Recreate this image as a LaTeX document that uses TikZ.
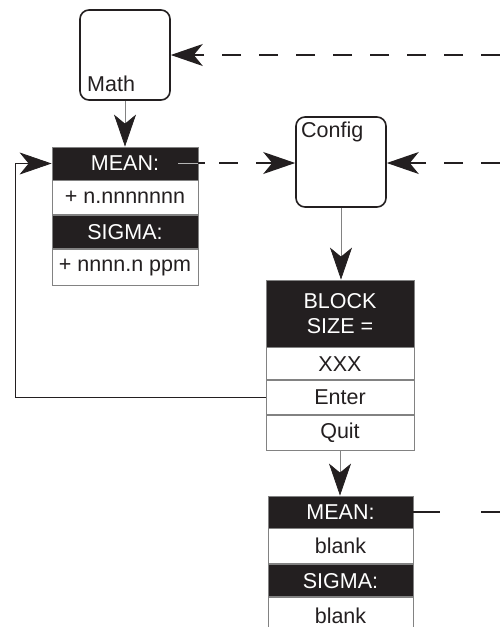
\documentclass[tikz,border=0pt]{standalone}
\usepackage{fontspec}
\setmainfont{Liberation Sans}
\usepackage{tikz}
\usetikzlibrary{arrows.meta, positioning, calc}
\definecolor{mydark}{RGB}{35,31,32}
\definecolor{rowgray}{RGB}{130,130,130}
\newcommand{\bigsans}{\fontsize{21.5}{24.3}\selectfont}
\tikzset{
  panel/.style={rectangle, draw=mydark, line width=1.6pt, rounded corners=9pt,
    minimum width=90pt, minimum height=90pt, inner sep=0pt},
  hdr/.style={rectangle, draw=rowgray, fill=mydark, text=white, font=\bigsans,
    minimum width=146pt, minimum height=33.5pt, inner sep=0pt, align=center, line width=0.8pt},
  cell/.style={hdr, fill=white, text=mydark},
  lbl/.style={anchor=base west, font=\bigsans, text=mydark, inner sep=0pt},
  arrow/.style={-{Stealth[length=32pt, width=22pt, inset=9pt, color=mydark]}},
  thin/.style={draw=rowgray, line width=0.7pt},
  dashline/.style={draw=mydark, line width=1.3pt, dash pattern=on 19pt off 18pt}
}

\begin{document}
\begin{tikzpicture}[x=1pt, y=-1pt]
    \useasboundingbox (0,0) rectangle (500,627);

    % mode panels
    \node[panel] (math) at (125,55) {};
    \node[lbl] (mathlbl) at (87,91) {Math};
    \node[panel] (config) at (341,162) {};
    \node[lbl] (cfglbl) at (301,137) {Config};

    % math readout
    \node[hdr, minimum height=33pt] (mean1h) at (125,163.5) {MEAN:};
    \node[cell, below=0pt of mean1h] (mean1v) {+ n.nnnnnnn};
    \node[hdr, below=0pt of mean1v] (sig1h) {SIGMA:};
    \node[cell, below=0pt of sig1h, minimum height=36pt] (sig1v) {+ nnnn.n ppm};

    % block size menu
    \node[hdr, minimum width=148pt, minimum height=67pt] (blk) at (340,313.5) {BLOCK\\SIZE =};
    \node[cell, minimum width=148pt, minimum height=32pt, below=0pt of blk] (xxx) {XXX};
    \node[cell, minimum width=148pt, minimum height=34pt, below=0pt of xxx] (enter) {Enter};
    \node[cell, minimum width=148pt, minimum height=35pt, below=0pt of enter] (quit) {Quit};

    % cleared readout
    \node[hdr, minimum width=145pt, minimum height=32pt] (mean2h) at (340.5,512) {MEAN:};
    \node[cell, minimum width=145pt, minimum height=35pt, below=0pt of mean2h] (mean2v) {blank};
    \node[hdr, minimum width=145pt, minimum height=32pt, below=0pt of mean2v] (sig2h) {SIGMA:};
    \node[cell, minimum width=145pt, minimum height=36pt, below=0pt of sig2h] (sig2v) {blank};

    \coordinate (inmath) at (500,55);
    \coordinate (incfg) at (500,163);
    \coordinate (outmean) at (500,512);
    \coordinate (meanout) at (178,163);
    \coordinate (loopx) at (15,0);

    % connectors
    \draw[dashline, arrow] (inmath) -- (math.east);
    \draw[thin, arrow] (math.south) -- (mean1h.north);
    \draw[dashline, arrow, dash pattern=on 27pt off 14pt on 19pt off 18pt] (meanout) -- (meanout -| config.west);
    \draw[thin, draw=rowgray!60] (meanout) -- (meanout -| mean1h.east);
    \draw[dashline, arrow] (incfg) -- (incfg -| config.east);
    \draw[thin, arrow] (config.south) -- (config.south |- blk.north);
    \draw[draw=mydark, line width=0.8pt, arrow] (enter.west) -- (enter.west -| loopx)
        -- (loopx |- mean1h.west) -- (mean1h.west);
    \draw[thin, arrow] (quit.south) -- (quit.south |- mean2h.north);
    \draw[dashline, dash pattern=on 27pt off 41pt] (mean2h.east) -- (outmean);
\end{tikzpicture}
\end{document}
